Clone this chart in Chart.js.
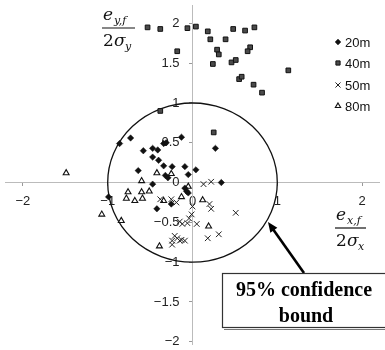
<!DOCTYPE html>
<html>
<head>
<meta charset="utf-8">
<script src="https://cdn.jsdelivr.net/npm/chart.js@4/dist/chart.umd.min.js"></script>
<style>html,body{margin:0;padding:0;background:#fff}</style>
</head>
<body>
<canvas id="c" width="385" height="350"></canvas>
<script>
// series (normalised errors)
const seriesNames = ['20m', '40m', '50m', '80m'];

const x20 = [-0.86,-0.73,-0.58,-0.47,-0.41,-0.47,-0.40,-0.34,-0.34,-0.31,-0.13,0.27,-0.64,-0.24,-0.09,0.04,-0.05,-0.32,-0.29,-0.47,-0.09,-0.07,-0.05,0.34,-0.25,-0.42,-0.99];
const y20 = [0.49,0.56,0.40,0.43,0.41,0.32,0.28,0.21,0.49,0.50,0.57,0.43,0.15,0.20,0.20,0.16,0.10,0.09,0.06,-0.02,-0.07,-0.11,-0.13,0.00,-0.27,-0.33,-0.18];

const x40 = [-0.53,-0.38,-0.06,0.04,0.18,0.21,0.39,0.48,0.62,0.73,-0.18,0.29,0.31,0.68,0.65,0.46,0.51,0.24,0.55,0.58,0.72,0.82,1.13,-0.38,0.25];
const y40 = [1.95,1.93,1.94,1.96,1.90,1.80,1.80,1.93,1.91,1.95,1.65,1.67,1.61,1.70,1.65,1.51,1.54,1.49,1.30,1.33,1.23,1.13,1.41,0.90,0.63];

const x50 = [0.13,0.22,-0.38,-0.25,-0.19,0.20,0.22,0.51,0.00,-0.01,-0.04,-0.06,-0.15,-0.12,0.05,0.18,0.31,-0.21,-0.18,-0.13,-0.24,-0.15,-0.24,-0.09];
const y50 = [-0.02,0.01,-0.21,-0.21,-0.25,-0.27,-0.33,-0.38,-0.30,-0.40,-0.45,-0.51,-0.49,-0.52,-0.52,-0.70,-0.65,-0.67,-0.70,-0.72,-0.73,-0.73,-0.78,-0.73];

const x80 = [-1.49,-1.07,-0.84,-0.39,-0.42,-0.25,-0.60,-0.76,-0.78,-0.68,-0.60,-0.59,-0.51,-0.34,-0.13,-0.05,0.12,0.19];
const y80 = [0.12,-0.40,-0.48,-0.80,0.12,0.11,0.02,-0.12,-0.20,-0.23,-0.12,-0.20,-0.11,-0.23,-0.18,-0.05,-0.22,-0.55];

const xTicks = [-2, -1, 0, 1, 2];
const yTicks = [-2, -1.5, -1, -0.5, 0, 0.5, 1, 1.5, 2];
const boundRadius = 1; // 95% confidence bound

function pairs(xs, ys) {
  return xs.map((v, i) => ({x: v, y: ys[i]}));
}

const styles = [
  {pointStyle: 'rectRot', radius: 3.2, bg: '#111', border: '#111', bw: 0.5},
  {pointStyle: 'rect', radius: 3.3, bg: '#4a4a4a', border: '#111', bw: 1},
  {pointStyle: 'crossRot', radius: 4, bg: '#222', border: '#222', bw: 1},
  {pointStyle: 'triangle', radius: 3.4, bg: '#fff', border: '#111', bw: 1.1}
];

const sets = [pairs(x20, y20), pairs(x40, y40), pairs(x50, y50), pairs(x80, y80)];

const tickFont = {family: '"Liberation Sans", Arial, sans-serif', size: 13};
const fmt = v => String(v).replace('-', '\u2212');

// centred axes must not eat into the plot area
function noSpace(s) {
  if (s.isHorizontal()) s.height = 0; else s.width = 0;
  s.paddingTop = s.paddingBottom = s.paddingLeft = s.paddingRight = 0;
}

const decorations = {
  id: 'decorations',
  beforeDatasetsDraw(chart) {
    const ctx = chart.ctx, sx = chart.scales.x, sy = chart.scales.y;
    const cx = sx.getPixelForValue(0), cy = sy.getPixelForValue(0);
    const rx = sx.getPixelForValue(boundRadius) - cx;
    const ry = cy - sy.getPixelForValue(boundRadius);
    ctx.save();
    ctx.beginPath();
    ctx.ellipse(cx, cy, rx, ry, 0, 0, Math.PI * 2);
    ctx.strokeStyle = '#111';
    ctx.lineWidth = 1.3;
    ctx.stroke();
    ctx.restore();
  },
  afterDraw(chart) {
    const ctx = chart.ctx;
    ctx.save();

    // legend
    const lx = 338, ly = [42, 63, 85, 106];
    ctx.font = '13px "Liberation Sans", Arial, sans-serif';
    ctx.textBaseline = 'middle';
    ctx.textAlign = 'left';
    seriesNames.forEach((name, i) => {
      const s = styles[i];
      ctx.fillStyle = s.bg;
      ctx.strokeStyle = s.border;
      ctx.lineWidth = s.bw;
      Chart.helpers.drawPoint(ctx, {pointStyle: s.pointStyle, radius: s.radius * 0.9, rotation: 0, borderWidth: s.bw}, lx, ly[i]);
      ctx.fillStyle = '#111';
      ctx.fillText(name, lx + 7, ly[i] + 1);
    });

    // axis label fractions
    function frac(x, y, w, sub1, sub2) {
      ctx.fillStyle = '#111';
      ctx.strokeStyle = '#111';
      ctx.textAlign = 'left';
      ctx.textBaseline = 'alphabetic';
      ctx.font = 'italic 17px "DejaVu Serif", "Liberation Serif", serif';
      ctx.fillText('e', x + 1, y - 8);
      ctx.font = 'italic 11px "DejaVu Serif", "Liberation Serif", serif';
      ctx.fillText(sub1, x + 12, y - 4);
      ctx.lineWidth = 1.2;
      ctx.beginPath();
      ctx.moveTo(x, y);
      ctx.lineTo(x + w, y);
      ctx.stroke();
      ctx.font = '17px "DejaVu Serif", "Liberation Serif", serif';
      ctx.fillText('2', x + 1, y + 18);
      ctx.font = 'italic 17px "DejaVu Serif", "Liberation Serif", serif';
      ctx.fillText('\u03c3', x + 12, y + 18);
      ctx.font = 'italic 11px "DejaVu Serif", "Liberation Serif", serif';
      ctx.fillText(sub2, x + 23, y + 22);
    }
    frac(102, 28, 33, 'y,f', 'y');
    frac(335, 228, 31, 'x,f', 'x');

    // annotation arrow
    ctx.strokeStyle = '#000';
    ctx.fillStyle = '#000';
    ctx.lineWidth = 2.6;
    const ax0 = 304, ay0 = 273, ax1 = 268, ay1 = 222;
    const ang = Math.atan2(ay1 - ay0, ax1 - ax0);
    ctx.beginPath();
    ctx.moveTo(ax0, ay0);
    ctx.lineTo(ax1 - Math.cos(ang) * 6, ay1 - Math.sin(ang) * 6);
    ctx.stroke();
    ctx.beginPath();
    ctx.moveTo(ax1, ay1);
    ctx.lineTo(ax1 - Math.cos(ang - 0.4) * 11, ay1 - Math.sin(ang - 0.4) * 11);
    ctx.lineTo(ax1 - Math.cos(ang + 0.4) * 11, ay1 - Math.sin(ang + 0.4) * 11);
    ctx.closePath();
    ctx.fill();

    // annotation box
    ctx.fillStyle = '#fff';
    ctx.fillRect(222, 273, 170, 55);
    ctx.strokeStyle = '#333';
    ctx.lineWidth = 1.2;
    ctx.strokeRect(222.5, 273.5, 170, 54);
    ctx.strokeStyle = '#777';
    ctx.beginPath();
    ctx.moveTo(224, 329.5);
    ctx.lineTo(385, 329.5);
    ctx.stroke();
    ctx.fillStyle = '#000';
    ctx.font = 'bold 20px "Liberation Serif", "Times New Roman", serif';
    ctx.textAlign = 'center';
    ctx.textBaseline = 'middle';
    ctx.fillText('95% confidence', 304, 291);
    ctx.fillText('bound', 306, 317);

    ctx.restore();
  }
};

new Chart(document.getElementById('c'), {
  type: 'scatter',
  data: {
    datasets: sets.map((d, i) => ({
      label: seriesNames[i],
      data: d,
      pointStyle: styles[i].pointStyle,
      pointRadius: styles[i].radius,
      pointBackgroundColor: styles[i].bg,
      pointBorderColor: styles[i].border,
      pointBorderWidth: styles[i].bw,
      clip: false
    }))
  },
  options: {
    responsive: false,
    animation: false,
    devicePixelRatio: 1,
    layout: {padding: 0},
    plugins: {legend: {display: false}, tooltip: {enabled: false}},
    scales: {
      x: {
        type: 'linear',
        min: -2.21,
        max: 2.21,
        position: {y: 0},
        afterFit: noSpace,
        afterBuildTicks: s => { s.ticks = xTicks.map(v => ({value: v})); },
        grid: {drawOnChartArea: false, drawTicks: true, tickLength: 3, color: '#999'},
        border: {display: true, color: '#bbb', dash: [3, 4]},
        ticks: {autoSkip: false, maxRotation: 0, padding: 8, color: '#222', font: tickFont, callback: fmt}
      },
      y: {
        type: 'linear',
        min: -2.04,
        max: 2.23,
        position: {x: 0},
        afterFit: noSpace,
        afterBuildTicks: s => { s.ticks = yTicks.map(v => ({value: v})); },
        grid: {drawOnChartArea: false, drawTicks: true, tickLength: 3, color: '#999'},
        border: {display: true, color: '#bbb', dash: [3, 4]},
        // labels of a centred axis ignore padding, so pad with en spaces
        ticks: {autoSkip: false, color: '#222', font: tickFont, callback: v => fmt(v) + '\u2002\u2002'}
      }
    }
  },
  plugins: [decorations]
});
</script>
</body>
</html>
